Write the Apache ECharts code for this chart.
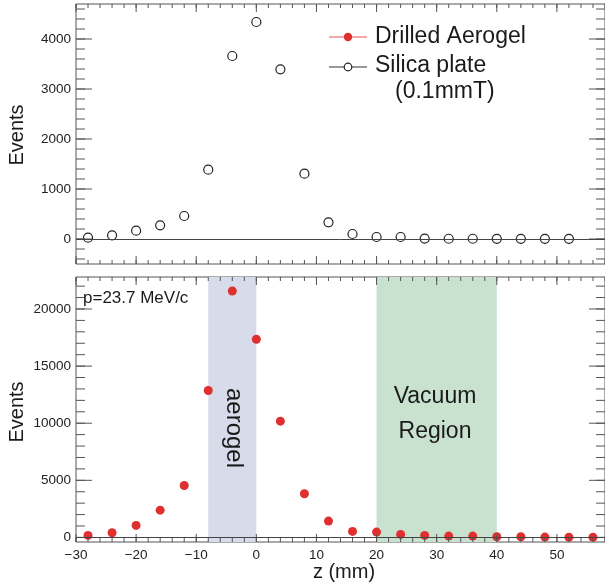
<!DOCTYPE html>
<html>
<head>
<meta charset="utf-8">
<script src="https://cdn.jsdelivr.net/npm/echarts@6/dist/echarts.min.js"></script>
<style>html,body{margin:0;padding:0;background:#fff}#c{width:605px;height:585px}</style>
</head>
<body>
<div id="c"></div>
<script>
// ---- data ----
const silicaZ = [-28,-24,-20,-16,-12,-8,-4,0,4,8,12,16,20,24,28,32,36,40,44,48,52];
const silicaEvents = [26,73,166,274,460,1386,3660,4340,3393,1306,334,100,40,40,8,5,5,3,3,3,3];
const aerogelZ = [-28,-24,-20,-16,-12,-8,-4,0,4,8,12,16,20,24,28,32,36,40,44,48,52,56];
const aerogelEvents = [175,410,1050,2390,4550,12860,21570,17350,10180,3820,1430,525,470,265,175,120,120,60,60,30,20,20];
const aerogelBand = [-8, 0];
const vacuumBand = [20, 40];
const xTicks = [-30,-20,-10,0,10,20,30,40,50];
const topYTicks = [0,1000,2000,3000,4000];
const botYTicks = [0,5000,10000,15000,20000];

function range(a, b, s){ const r=[]; for(let v=a; v<=b+1e-9; v+=s) r.push(v); return r; }
const xMinor = range(-30, 58, 2);
const topYMinor = range(-400, 4600, 200);
const botYMinor = range(0, 22000, 1000);

const FONT = '"Liberation Sans", Arial, Helvetica, sans-serif';
const AX = '#555';
const xMin = -30, xMax = 58;
const yLim = [[-500, 4700], [-400, 22800]];

const chart = echarts.init(document.getElementById('c'), null, {renderer:'canvas'});

function xAxisFor(g){
  return {gridIndex:g, type:'value', min:xMin, max:xMax, position:'bottom', splitLine:{show:false},
    axisLine:{show:false, onZero:false}, axisTick:{show:false},
    axisLabel:{show:g===1, customValues:xTicks, margin:6, fontSize:13.5, color:'#222', fontFamily:FONT,
      formatter:v => (v<0 ? '\u2212'+Math.abs(v) : String(v))}};
}
function yAxisFor(g, major){
  return {gridIndex:g, type:'value', min:yLim[g][0], max:yLim[g][1], position:'left', splitLine:{show:false},
    axisLine:{show:false, onZero:false}, axisTick:{show:false},
    axisLabel:{show:true, customValues:major, margin:5, fontSize:13.5, color:'#222', fontFamily:FONT,
      formatter:v => String(v)}};
}

// tick marks drawn through the axes' own scales (kind: 0 y-major, 1 y-minor, 2 x-major, 3 x-minor)
function tickSeries(g, yMajor, yMinor){
  const data = yMajor.map(v=>[v,0]).concat(yMinor.map(v=>[v,1]), xTicks.map(v=>[v,2]), xMinor.map(v=>[v,3]));
  const yMin = yLim[g][0], yMax = yLim[g][1];
  return {type:'custom', coordinateSystem:'cartesian2d', xAxisIndex:g, yAxisIndex:g, silent:true, z:4,
    clip:false, data:data, encode:{x:-1, y:-1},
    renderItem:function(params, api){
      const v = api.value(0), kind = api.value(1);
      const style = {stroke:AX, lineWidth:1};
      if (kind < 2){
        const len = kind === 0 ? 16 : 9;
        const a = api.coord([xMin, v]), b = api.coord([xMax, v]);
        return {type:'group', children:[
          {type:'line', shape:{x1:a[0], y1:a[1], x2:a[0]+len, y2:a[1]}, style:style},
          {type:'line', shape:{x1:b[0]-len, y1:b[1], x2:b[0], y2:b[1]}, style:style}
        ]};
      }
      const len = kind === 2 ? 8 : 4;
      const a = api.coord([v, yMin]), b = api.coord([v, yMax]);
      return {type:'group', children:[
        {type:'line', shape:{x1:a[0], y1:a[1], x2:a[0], y2:a[1]-len}, style:style},
        {type:'line', shape:{x1:b[0], y1:b[1], x2:b[0], y2:b[1]+len}, style:style}
      ]};
    }};
}

const zeroLine = {silent:true, symbol:'none', label:{show:false},
  lineStyle:{color:'#444', width:1, type:'solid'}, data:[{yAxis:0}]};

const option = {
  animation:false,
  backgroundColor:'#fff',
  grid:[
    {left:76, top:4, width:531, height:260, show:true, borderColor:AX, borderWidth:1},
    {left:76, top:277, width:531, height:265, show:true, borderColor:AX, borderWidth:1}
  ],
  xAxis:[xAxisFor(0), xAxisFor(1)],
  yAxis:[yAxisFor(0, topYTicks), yAxisFor(1, botYTicks)],
  series:[
    tickSeries(0, topYTicks, topYMinor),
    tickSeries(1, botYTicks, botYMinor),
    {name:'Silica plate', type:'scatter', xAxisIndex:0, yAxisIndex:0,
      data: silicaZ.map((z,i)=>[z, silicaEvents[i]]),
      symbol:'circle', symbolSize:9,
      itemStyle:{color:'#fff', borderColor:'#222', borderWidth:1.2, opacity:1},
      markLine: zeroLine, z:3},
    {name:'Drilled Aerogel', type:'scatter', xAxisIndex:1, yAxisIndex:1,
      data: aerogelZ.map((z,i)=>[z, aerogelEvents[i]]),
      symbol:'circle', symbolSize:9,
      itemStyle:{color:'#e02f2f', opacity:1},
      markLine: zeroLine,
      markArea:{silent:true, label:{show:false},
        data:[
          [{xAxis:aerogelBand[0], itemStyle:{color:'#d8dbea'}}, {xAxis:aerogelBand[1]}],
          [{xAxis:vacuumBand[0], itemStyle:{color:'#c8e2cf'}}, {xAxis:vacuumBand[1]}]
        ]}, z:3}
  ],
  graphic:[
    // legend
    {type:'line', shape:{x1:329,y1:37,x2:367,y2:37}, style:{stroke:'#f08c8c', lineWidth:1.5}, z:10},
    {type:'circle', shape:{cx:348,cy:37,r:4.2}, style:{fill:'#e02f2f'}, z:11},
    {type:'text', x:375, y:37, style:{text:'Drilled Aerogel', font:'23px '+FONT, fill:'#1a1a1a', textVerticalAlign:'middle'}, z:10},
    {type:'line', shape:{x1:329,y1:67,x2:367,y2:67}, style:{stroke:'#333', lineWidth:1.2}, z:10},
    {type:'circle', shape:{cx:348,cy:67,r:3.8}, style:{fill:'#fff', stroke:'#222', lineWidth:1.2}, z:11},
    {type:'text', x:375, y:66, style:{text:'Silica plate', font:'23px '+FONT, fill:'#1a1a1a', textVerticalAlign:'middle'}, z:10},
    {type:'text', x:395, y:92, style:{text:'(0.1mmT)', font:'23px '+FONT, fill:'#1a1a1a', textVerticalAlign:'middle'}, z:10},
    // axis titles
    {type:'text', x:17, y:135, rotation:Math.PI/2, style:{text:'Events', font:'20px '+FONT, fill:'#1a1a1a', textAlign:'center', textVerticalAlign:'middle'}, z:10},
    {type:'text', x:17, y:412, rotation:Math.PI/2, style:{text:'Events', font:'20px '+FONT, fill:'#1a1a1a', textAlign:'center', textVerticalAlign:'middle'}, z:10},
    {type:'text', x:344, y:572, style:{text:'z (mm)', font:'20px '+FONT, fill:'#1a1a1a', textAlign:'center', textVerticalAlign:'middle'}, z:10},
    // annotations
    {type:'text', x:83, y:298, style:{text:'p=23.7 MeV/c', font:'17px '+FONT, fill:'#1a1a1a', textVerticalAlign:'middle'}, z:10},
    {type:'text', x:234, y:428, rotation:-Math.PI/2, style:{text:'aerogel', font:'24px '+FONT, fill:'#1a1a1a', textAlign:'center', textVerticalAlign:'middle'}, z:10},
    {type:'text', x:435, y:397, style:{text:'Vacuum', font:'23px '+FONT, fill:'#1a1a1a', textAlign:'center', textVerticalAlign:'middle'}, z:10},
    {type:'text', x:435, y:432, style:{text:'Region', font:'23px '+FONT, fill:'#1a1a1a', textAlign:'center', textVerticalAlign:'middle'}, z:10}
  ]
};
chart.setOption(option);
</script>
</body>
</html>
